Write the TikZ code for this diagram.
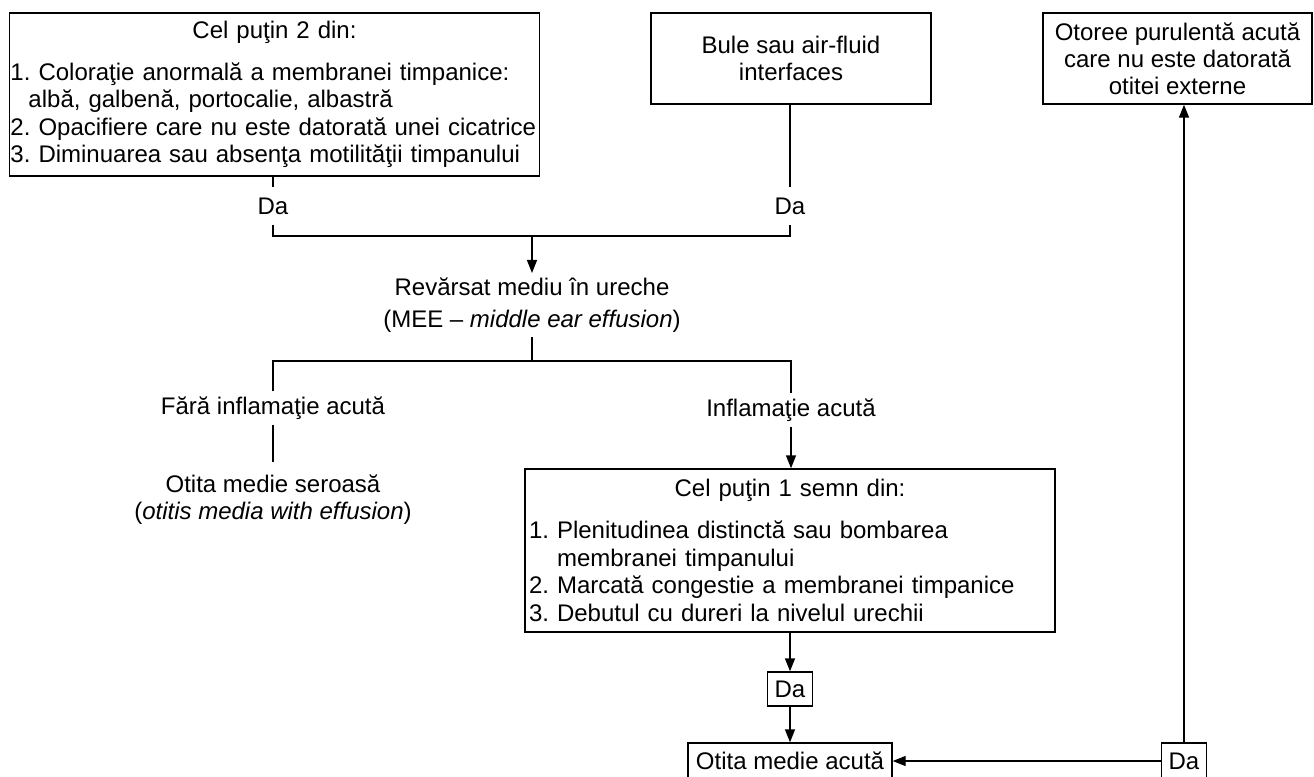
\documentclass[tikz,border=0pt]{standalone}
\usepackage{fontspec}
\setmainfont{Liberation Sans}
\usetikzlibrary{arrows.meta}
\begin{document}
\begin{tikzpicture}[x=0.5pt,y=-0.5pt,
  font=\fontsize{12pt}{13.5pt}\selectfont,
  line width=0.7pt,
  arr/.style={-{Triangle[length=6.5pt,width=5pt]}},
  box/.style={draw,align=center,inner sep=0pt},
  listbox/.style={draw,align=left,inner xsep=0.5pt,inner ysep=0pt,
    text width=264pt,minimum width=265pt,minimum height=81.5pt,
    font=\fontsize{12pt}{13.75pt}\selectfont},
  dabox/.style={draw,inner sep=0pt,minimum width=22.5pt,minimum height=17pt},
  lbl/.style={inner sep=0pt,minimum height=16pt,align=center},
  txt/.style={align=center,inner sep=2pt}]
  \useasboundingbox (0,0) rectangle (1314,777);
  % boxes on top
  \node[listbox] (crit) at (274.5,94.5) {\makebox[\hsize]{Cel puţin 2 din:}\\[7.25pt]
    1.~Coloraţie anormală a membranei timpanice:\\
    \hspace*{9pt}albă, galbenă, portocalie, albastră\\
    2.~Opacifiere care nu este datorată unei cicatrice\\
    3.~Diminuarea sau absenţa motilităţii timpanului};
  \node[box,minimum width=140pt,minimum height=45.5pt] (bule) at (791,58.5)
    {Bule sau air-fluid\\interfaces};
  \node[box,minimum width=134.5pt,minimum height=45.5pt] (otor) at (1177.5,58.5)
    {Otoree purulentă acută\\care nu este datorată\\otitei externe};
  % yes branches joining
  \node[lbl,minimum height=18pt] (da1) at (273,206) {Da};
  \node[lbl,minimum height=18pt] (da2) at (790,206) {Da};
  \coordinate (join) at (532,236);
  \draw (crit.south -| da1) -- (da1.north);
  \draw (bule.south -| da2) -- (da2.north);
  \draw (da1.south) |- (join) -| (da2.south);
  % effusion
  \node[txt] (mee) at (532,305) {Revărsat mediu în ureche\\[2.5pt](MEE – \textit{middle ear effusion})};
  \draw[arr] (join) -- (mee.north);
  \coordinate (split) at (532,361);
  \draw (mee.south) -- (split);
  % left: no inflammation
  \node[lbl] (fara) at (273,408) {Fără inflamaţie acută};
  \node[txt,anchor=north,inner ysep=6pt] (seroasa) at (273,462)
    {Otita medie seroasă\\(\textit{otitis media with effusion})};
  \draw (fara.south) -- (seroasa.north);
  % right: acute inflammation
  \node[lbl] (infl) at (791,410) {Inflamaţie acută};
  \draw (fara.north) |- (split) -| (infl.north);
  \node[listbox,inner xsep=2pt,text width=261pt] (semne) at (790,550.5) {\makebox[\hsize]{Cel puţin 1 semn din:}\\[7.25pt]
    1.~Plenitudinea distinctă sau bombarea\\
    \hphantom{1.\ }membranei timpanului\\
    2.~Marcată congestie a membranei timpanice\\
    3.~Debutul cu dureri la nivelul urechii};
  \draw[arr] (infl.south) -- (infl.south |- semne.north);
  \node[dabox] (dam) at (790,689) {Da};
  \node[box,minimum width=102pt,minimum height=18pt] (oma) at (790,761) {Otita medie acută};
  \draw[arr] (semne.south) -- (dam.north);
  \draw[arr] (dam) -- (oma);
  % otorrhoea branch
  \node[dabox,minimum height=18pt] (dar) at (1184,761) {Da};
  \draw[arr] (dar) -- (oma);
  \draw[arr] (dar) -- (dar |- otor.south);
\end{tikzpicture}
\end{document}
